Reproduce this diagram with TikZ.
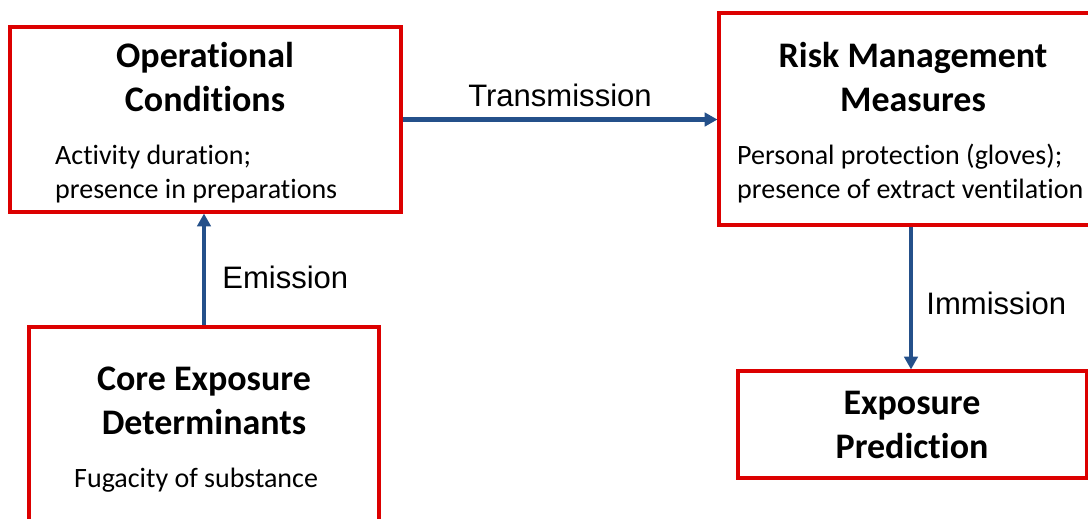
\documentclass[tikz,border=0pt]{standalone}
\usepackage{fontspec}
\setmainfont{Carlito}[Ligatures=NoCommon]
\newfontfamily\labelfont{Liberation Sans}
\usetikzlibrary{arrows.meta,positioning,calc}
\definecolor{boxred}{HTML}{DC0000}
\definecolor{flowblue}{HTML}{24508A}

\begin{document}
\begin{tikzpicture}[
  x=0.03cm, y=-0.03cm,
  block/.style={
    draw=boxred, fill=white, rectangle,
    line width=2.6pt, inner sep=0pt
  },
  head/.style={font=\fontsize{30.7}{36.8}\selectfont\bfseries, align=center},
  body/.style={font=\fontsize{23.9}{29}\selectfont, align=left, inner sep=0pt},
  flow/.style={-{Triangle[length=11pt,width=11.5pt]}, flowblue, line width=3.6pt},
  lab/.style={text=black, font=\labelfont\fontsize{26.5}{30}\selectfont}
]
  \useasboundingbox (0,0) rectangle (1088,518);

  % boxes
  \node[block, minimum width=11.73cm, minimum height=5.55cm] (oc) at (205.5, 119.5) {};
  \node[block, minimum width=11.52cm, minimum height=6.36cm] (rmm) at (911, 119) {};
  \node[block, minimum width=10.5cm, minimum height=6.99cm] (ced) at (204, 443.5) {};
  \node[block, minimum width=10.47cm, minimum height=3.21cm] (ep) at (912.5, 424.5) {};

  % titles and details (base = last line)
  \node[head, anchor=base] (octitle) at (205, 111) {Operational\\Conditions};
  \node[body, anchor=base west] (ocbody) at (55, 198) {Activity duration;\\presence in preparations};

  \node[head, anchor=base] (rmmtitle) at (913, 111) {Risk Management\\Measures};
  \node[body, anchor=base west] (rmmbody) at (737, 198) {Personal protection (gloves);\\presence of extract ventilation};

  \node[head, anchor=base] (cedtitle) at (204, 434) {Core Exposure\\Determinants};
  \node[body, anchor=base west] (cedbody) at (74, 487) {Fugacity of substance};

  \node[head, anchor=base] (eptitle) at (912, 458) {Exposure\\Prediction};

  % flows
  \draw[flow] (ced.north) -- (ced.north |- oc.south)
    node[lab, pos=0.43, right=10.5pt] {Emission};
  \draw[flow] (oc.east) -- (oc.east -| rmm.west)
    node[lab, midway, above=5.5pt] {Transmission};
  \draw[flow] (rmm.south) -- (rmm.south |- ep.north)
    node[lab, pos=0.54, right=8pt] {Immission};
\end{tikzpicture}
\end{document}
